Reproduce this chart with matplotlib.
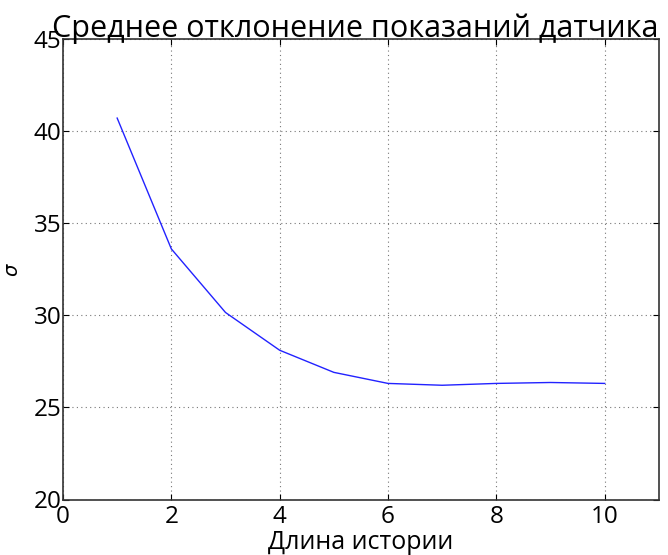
import matplotlib.pyplot as plt

history_len = [1, 2, 3, 4, 5, 6, 7, 8, 9, 10]
sigma = [40.7, 33.6, 30.15, 28.1, 26.9, 26.3, 26.2, 26.3, 26.35, 26.3]

plt.rcParams['font.family'] = ['Open Sans', 'DejaVu Sans']
plt.rcParams['mathtext.fontset'] = 'dejavusans'

fig = plt.figure(figsize=(6.68, 5.55), dpi=100)
ax = fig.add_axes([0.0943, 0.10, 0.892, 0.83])

ax.plot(history_len, sigma, color='#2222ff', linewidth=1.0)

ax.set_xlim(0, 11)
ax.set_ylim(20, 45)
ax.set_xticks([0, 2, 4, 6, 8, 10])
ax.set_yticks([20, 25, 30, 35, 40, 45])
ax.grid(True, linestyle=(0, (1, 3)), color='#777777', linewidth=0.8)
ax.tick_params(direction='in', top=True, right=True, labelsize=17.5,
               length=4, width=0.8)
ax.tick_params(axis='x', pad=4)
ax.tick_params(axis='y', pad=1)
for s in ax.spines.values():
    s.set_color('#333333')
    s.set_linewidth(1.2)

ax.set_title('Среднее отклонение показаний датчика', fontsize=22, pad=1, x=0.49)
ax.set_xlabel('Длина истории', fontsize=18, labelpad=1)
ax.set_ylabel(r'$\sigma$', fontsize=14)
ax.yaxis.set_label_coords(-0.068, 0.5)

plt.savefig('out.png', dpi=100)
